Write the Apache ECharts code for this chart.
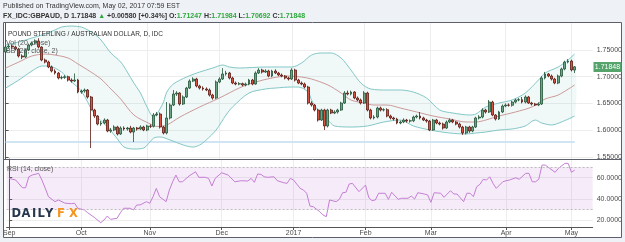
<!DOCTYPE html>
<html><head><meta charset="utf-8">
<script src="https://cdn.jsdelivr.net/npm/echarts@6/dist/echarts.min.js"></script>
<style>html,body{margin:0;padding:0;background:#fff}#c{width:625px;height:242px}</style>
</head><body><div id="c"></div>
<script>
// ---------- DATA ----------
const firstDay = '2016-09-01', lastDay = '2017-05-02';
const monthLabels = ['Sep','Oct','Nov','Dec','2017','Feb','Mar','Apr','May'];
const priceTicks = [1.55, 1.60, 1.65, 1.70, 1.75];
const rsiTicks = [20, 40, 60];
const lastPrice = 1.71848;

const opens = [1.7463,1.7556,1.7575,1.7556,1.7519,1.7388,1.7369,1.7500,1.7594,1.7631,1.7669,1.7556,1.7313,1.7275,1.7182,1.7107,1.7069,1.6976,1.6985,1.7000,
1.6938,1.6919,1.6938,1.6713,1.6732,1.6751,1.6620,1.6376,1.6264,1.6114,1.6133,1.6189,1.5983,1.6002,1.6058,1.5927,1.6039,1.6021,1.6039,1.5964,
1.6039,1.6021,1.6058,1.6002,1.6077,1.6070,1.6283,1.6301,1.6058,1.5946,1.6227,1.6470,1.6676,1.6695,1.6489,1.6620,1.6788,1.6919,1.6957,1.6826,
1.6788,1.6770,1.6751,1.6657,1.6601,1.6901,1.6957,1.7051,1.7069,1.6976,1.6882,1.6863,1.6870,1.6845,1.6863,1.6938,1.6863,1.7069,1.7125,1.7088,
1.7107,1.7013,1.7107,1.7069,1.7032,1.7013,1.6976,1.6957,1.7125,1.6938,1.6882,1.6863,1.6807,1.6507,1.6470,1.6376,1.6189,1.6376,1.6077,1.6376,
1.6320,1.6339,1.6376,1.6507,1.6695,1.6676,1.6713,1.6601,1.6564,1.6507,1.6695,1.6376,1.6227,1.6245,1.6414,1.6376,1.6383,1.6264,1.6227,1.6208,
1.6133,1.6152,1.6189,1.6170,1.6175,1.6245,1.6264,1.6227,1.6189,1.6170,1.6002,1.6189,1.6133,1.6114,1.6039,1.6152,1.6189,1.6152,1.6114,1.6058,
1.5946,1.6058,1.5983,1.6058,1.6227,1.6245,1.6376,1.6339,1.6526,1.6283,1.6208,1.6339,1.6451,1.6470,1.6465,1.6526,1.6564,1.6570,1.6526,1.6620,
1.6507,1.6489,1.6470,1.6489,1.6976,1.7051,1.7013,1.6957,1.6882,1.7013,1.7144,1.7275,1.7294,1.71247];
const closes = [1.7556,1.7575,1.7556,1.7519,1.7388,1.7369,1.7500,1.7594,1.7631,1.7669,1.7556,1.7313,1.7275,1.7182,1.7107,1.7069,1.6976,1.6985,1.7000,1.6938,
1.6919,1.6938,1.6713,1.6732,1.6751,1.6620,1.6376,1.6264,1.6114,1.6133,1.6189,1.5983,1.6002,1.6058,1.5927,1.6039,1.6021,1.6039,1.5964,1.6039,
1.6021,1.6058,1.6002,1.6077,1.6070,1.6283,1.6301,1.6058,1.5946,1.6227,1.6470,1.6676,1.6695,1.6489,1.6620,1.6788,1.6919,1.6957,1.6826,1.6788,
1.6770,1.6751,1.6657,1.6601,1.6901,1.6957,1.7051,1.7069,1.6976,1.6882,1.6863,1.6870,1.6845,1.6863,1.6938,1.6863,1.7069,1.7125,1.7088,1.7107,
1.7013,1.7107,1.7069,1.7032,1.7013,1.6976,1.6957,1.7125,1.6938,1.6882,1.6863,1.6807,1.6507,1.6470,1.6376,1.6189,1.6376,1.6077,1.6376,1.6320,
1.6339,1.6376,1.6507,1.6695,1.6676,1.6713,1.6601,1.6564,1.6507,1.6695,1.6376,1.6227,1.6245,1.6414,1.6376,1.6383,1.6264,1.6227,1.6208,1.6133,
1.6152,1.6189,1.6170,1.6175,1.6245,1.6264,1.6227,1.6189,1.6170,1.6002,1.6189,1.6133,1.6114,1.6039,1.6152,1.6189,1.6152,1.6114,1.6058,1.5946,
1.6058,1.5983,1.6058,1.6227,1.6245,1.6376,1.6339,1.6526,1.6283,1.6208,1.6339,1.6451,1.6470,1.6465,1.6526,1.6564,1.6570,1.6526,1.6620,1.6507,
1.6489,1.6470,1.6489,1.6976,1.7051,1.7013,1.6957,1.6882,1.7013,1.7144,1.7275,1.7294,1.71268,1.71848];
const highs = [1.7590,1.7610,1.7600,1.7580,1.7540,1.7420,1.7520,1.7620,1.7660,1.7700,1.7720,1.7570,1.7340,1.7300,1.7210,1.7140,1.7090,1.7020,1.7030,1.7020,
1.6970,1.7060,1.6960,1.6760,1.6780,1.6770,1.6640,1.6400,1.6280,1.6170,1.6220,1.6210,1.6040,1.6090,1.6080,1.6070,1.6070,1.6060,1.6080,1.6060,
1.6060,1.6090,1.6080,1.6100,1.6110,1.6320,1.6340,1.6330,1.6080,1.6526,1.6500,1.6750,1.6730,1.6710,1.6650,1.6810,1.6950,1.6990,1.6980,1.6850,
1.6820,1.6800,1.6780,1.6680,1.6930,1.6990,1.7160,1.7110,1.7090,1.7000,1.6910,1.6900,1.6890,1.6890,1.6960,1.6960,1.7100,1.7160,1.7150,1.7140,
1.7130,1.7130,1.7140,1.7090,1.7060,1.7030,1.7000,1.7160,1.7150,1.6960,1.6910,1.6890,1.6830,1.6540,1.6490,1.6400,1.6400,1.6400,1.6400,1.6400,
1.6370,1.6400,1.6530,1.6730,1.6740,1.6740,1.6730,1.6630,1.6590,1.6730,1.6720,1.6400,1.6280,1.6440,1.6440,1.6410,1.6410,1.6290,1.6250,1.6230,
1.6180,1.6220,1.6210,1.6200,1.6270,1.6290,1.6339,1.6250,1.6210,1.6190,1.6210,1.6210,1.6160,1.6140,1.6180,1.6220,1.6210,1.6170,1.6140,1.6080,
1.6080,1.6080,1.6080,1.6250,1.6280,1.6410,1.6400,1.6564,1.6550,1.6300,1.6360,1.6480,1.6500,1.6500,1.6550,1.6590,1.6600,1.6620,1.6650,1.6640,
1.6530,1.6510,1.6520,1.7010,1.7090,1.7070,1.7040,1.6980,1.7040,1.7170,1.7300,1.7330,1.7320,1.71984];
const lows = [1.7440,1.7530,1.7520,1.7490,1.7360,1.7330,1.7350,1.7480,1.7570,1.7610,1.7530,1.7290,1.7250,1.7160,1.7080,1.7040,1.6950,1.6950,1.6960,1.6910,
1.6890,1.6900,1.6690,1.6680,1.6700,1.6590,1.5665,1.6230,1.6090,1.6080,1.6110,1.5960,1.5950,1.5980,1.5900,1.5910,1.5990,1.5990,1.5940,1.5777,
1.5990,1.6000,1.5980,1.5980,1.6040,1.6050,1.6260,1.6030,1.5920,1.5920,1.6200,1.6450,1.6640,1.6460,1.6470,1.6600,1.6770,1.6900,1.6800,1.6760,
1.6740,1.6730,1.6630,1.6570,1.6580,1.6880,1.6940,1.7020,1.6950,1.6860,1.6840,1.6840,1.6820,1.6820,1.6840,1.6840,1.6850,1.7050,1.7060,1.7070,
1.6990,1.6990,1.7050,1.7010,1.6990,1.6950,1.6930,1.6940,1.6910,1.6860,1.6840,1.6780,1.6480,1.6440,1.6350,1.6160,1.6170,1.6002,1.6050,1.6300,
1.6300,1.6310,1.6360,1.6490,1.6650,1.6650,1.6580,1.6540,1.6480,1.6490,1.6350,1.6200,1.6200,1.6220,1.6350,1.6350,1.6240,1.6200,1.6180,1.6110,
1.6110,1.6130,1.6140,1.6140,1.6150,1.6220,1.6200,1.6170,1.6140,1.5980,1.5990,1.6110,1.6090,1.6010,1.6020,1.6130,1.6130,1.6090,1.6030,1.5910,
1.5920,1.5950,1.5960,1.6040,1.6200,1.6220,1.6310,1.6320,1.6260,1.6180,1.6190,1.6320,1.6430,1.6440,1.6440,1.6500,1.6540,1.6500,1.6500,1.6490,
1.6460,1.6450,1.6450,1.6470,1.6950,1.6990,1.6930,1.6860,1.6860,1.6990,1.7120,1.7250,1.7100,1.70692];

// Bollinger Bands (20, close, 2): [bar index, value]
const bbUpper = [[0,1.7594],[4,1.7650],[8,1.7725],[11,1.7781],[15,1.7875],[17,1.7931],[20,1.7949],[23,1.7931],[25,1.7875],[27,1.7800],[29,1.7687],[32,1.7444],[35,1.7275],[37,1.7088],[39,1.6880],[41,1.6695],[43,1.6433],[45,1.6245],[46,1.6301],[48,1.6526],[49,1.6713],[51,1.6863],[55,1.6994],[59,1.7088],[63,1.7163],[66,1.7219],[68,1.7182],[71,1.7163],[79,1.7182],[87,1.7182],[90,1.7257],[93,1.7406],[96,1.7444],[99,1.7444],[102,1.7350],[105,1.7125],[108,1.6882],[111,1.6770],[116,1.6751],[120,1.6751],[124,1.6713],[128,1.6601],[132,1.6376],[136,1.6320],[141,1.6283],[143,1.6301],[146,1.6433],[150,1.6507],[154,1.6564],[158,1.6695],[162,1.6938],[164,1.7069],[168,1.7182],[171,1.7313],[173,1.7425]];
const bbBasis = [[0,1.7163],[4,1.7275],[8,1.7388],[12,1.7425],[15,1.7406],[19,1.7350],[22,1.7238],[25,1.7125],[29,1.6957],[32,1.6770],[35,1.6582],[39,1.6283],[44,1.6115],[46,1.6068],[49,1.6096],[53,1.6245],[59,1.6433],[65,1.6601],[71,1.6788],[75,1.6882],[81,1.6976],[86,1.7013],[90,1.6994],[93,1.6957],[98,1.6845],[102,1.6695],[105,1.6564],[109,1.6507],[112,1.6470],[116,1.6470],[120,1.6414],[125,1.6339],[130,1.6264],[135,1.6208],[140,1.6152],[143,1.6152],[146,1.6189],[150,1.6264],[155,1.6339],[160,1.6433],[164,1.6582],[168,1.6657],[173,1.6845]];
const bbLower = [[0,1.6788],[4,1.6938],[8,1.7107],[11,1.7200],[13,1.7200],[17,1.7088],[19,1.6957],[23,1.6732],[27,1.6301],[31,1.6058],[34,1.5833],[36,1.5683],[39,1.5646],[42,1.5665],[45,1.5850],[47,1.5871],[50,1.5815],[54,1.5721],[57,1.5683],[59,1.5721],[61,1.5815],[64,1.6002],[67,1.6283],[69,1.6433],[74,1.6695],[79,1.6770],[82,1.6788],[87,1.6807],[89,1.6807],[92,1.6713],[93,1.6564],[95,1.6376],[98,1.6189],[100,1.6077],[105,1.6058],[110,1.6077],[115,1.6152],[120,1.6189],[124,1.6077],[129,1.6002],[135,1.5946],[140,1.5927],[143,1.5946],[146,1.5964],[150,1.6002],[154,1.6021],[158,1.6077],[161,1.6189],[163,1.6133],[166,1.6096],[169,1.6152],[173,1.6264]];

// RSI (14, close): [bar index, value]
const rsi = [[0,59.4],[2,57.8],[4,50.6],[5,50.6],[6,60.9],[7,62.5],[9,64.1],[10,57.8],[11,50.3],[12,42.2],[14,37.5],[15,39.1],[17,36.2],[19,35.6],[20,36.0],[21,31.3],[23,29.7],[24,27.1],[26,22.8],[28,17.7],[29,20.3],[30,24.0],[31,20.9],[33,21.9],[34,27.1],[35,31.3],[37,31.3],[38,29.7],[39,34.4],[40,34.4],[42,37.5],[43,36.0],[44,42.2],[45,50.0],[46,42.2],[48,37.5],[49,48.5],[50,56.2],[51,62.5],[52,56.2],[53,56.2],[55,61.6],[57,65.6],[58,60.4],[60,60.4],[61,59.4],[62,52.2],[63,59.4],[65,64.7],[67,62.5],[69,56.2],[71,57.2],[73,56.9],[74,59.4],[75,55.7],[76,63.5],[77,63.2],[78,60.9],[79,60.4],[81,60.9],[82,57.2],[84,55.3],[85,54.7],[86,59.4],[87,57.8],[89,50.0],[90,48.5],[91,45.4],[92,33.4],[93,32.8],[95,28.1],[96,25.0],[97,23.4],[98,39.1],[100,37.5],[101,39.7],[102,45.9],[103,46.3],[104,54.1],[105,54.7],[107,46.9],[109,53.1],[110,41.2],[111,38.4],[112,39.1],[113,45.4],[115,45.4],[116,39.7],[117,46.3],[119,39.7],[120,40.7],[122,40.7],[123,42.8],[124,40.0],[125,45.9],[127,44.7],[128,43.8],[129,36.9],[130,45.9],[132,45.4],[133,41.6],[135,47.8],[136,44.7],[137,44.7],[139,37.5],[140,45.4],[141,45.4],[142,42.2],[143,51.5],[144,53.8],[145,58.5],[146,57.8],[147,60.9],[148,54.7],[149,50.0],[151,56.2],[152,57.2],[153,57.8],[155,60.0],[156,58.5],[158,64.1],[159,64.1],[160,56.2],[161,56.2],[162,58.5],[163,71.9],[164,71.9],[167,65.1],[168,68.8],[170,73.5],[171,73.5],[172,65.1],[173,67.2]];
const rsiBand = [30, 70];

// ---------- BUILD ----------
const dates = [];
for (let d = new Date(firstDay + 'T00:00:00Z'); d <= new Date(lastDay + 'T00:00:00Z'); d.setUTCDate(d.getUTCDate() + 1)) {
  const wd = d.getUTCDay();
  if (wd !== 0 && wd !== 6) dates.push(d.toISOString().slice(0, 10));
}
const monthStarts = [];
dates.forEach((d, i) => { if (i === 0 || d.slice(5, 7) !== dates[i - 1].slice(5, 7)) monthStarts.push(i); });
const monthName = {};
monthStarts.forEach((idx, k) => { monthName[idx] = monthLabels[k]; });

const candles = dates.map((d, i) => [i, opens[i], closes[i], lows[i], highs[i]]);
const volume = dates.map((d, i) => [i, 0]);

const FONT = 'Liberation Sans';
const XMIN = -0.8, XMAX = 178.5;
const chart = echarts.init(document.getElementById('c'), null, { renderer: 'canvas' });

const axisTxt = { fontFamily: FONT, fontSize: 7, color: '#4a4a4a' };
const gridLine = { show: true, lineStyle: { color: '#ededed', width: 1 } };

chart.setOption({
  animation: false,
  backgroundColor: '#ffffff',
  grid: [
    { left: 3, top: 23, width: 590, height: 136 },
    { left: 3, top: 159, width: 590, height: 68 }
  ],
  xAxis: [
    { type: 'value', gridIndex: 0, min: XMIN, max: XMAX,
      axisLine: { show: false }, axisTick: { show: false, customValues: monthStarts },
      axisLabel: { show: false, customValues: monthStarts }, splitLine: gridLine },
    { type: 'value', gridIndex: 1, min: XMIN, max: XMAX,
      axisLine: { show: true, onZero: false, lineStyle: { color: '#555', width: 1 } },
      axisTick: { show: true, length: 3, customValues: monthStarts, lineStyle: { color: '#555' } },
      axisLabel: Object.assign({ customValues: monthStarts, margin: 3, formatter: v => monthName[v] || '' }, axisTxt),
      splitLine: gridLine }
  ],
  yAxis: [
    { type: 'value', gridIndex: 0, position: 'right', min: 1.5459, max: 1.8006,
      axisLine: { show: true, lineStyle: { color: '#555' } },
      axisTick: { show: true, length: 3, customValues: priceTicks, lineStyle: { color: '#555' } },
      axisLabel: Object.assign({ customValues: priceTicks, margin: 4, formatter: v => v.toFixed(5) }, axisTxt),
      splitLine: gridLine },
    { type: 'value', gridIndex: 1, position: 'right', min: 13.7, max: 77.6,
      axisLine: { show: true, lineStyle: { color: '#555' } },
      axisTick: { show: true, length: 3, customValues: rsiTicks, lineStyle: { color: '#555' } },
      axisLabel: Object.assign({ customValues: rsiTicks, margin: 4, formatter: v => v.toFixed(4) }, axisTxt),
      splitLine: gridLine },
    { type: 'value', gridIndex: 0, show: false, min: -1, max: 7 }
  ],
  series: [
    { type: 'custom', name: 'bbfill', xAxisIndex: 0, yAxisIndex: 0, z: 1, silent: true,
      data: [[0]],
      renderItem: (params, api) => {
        const pts = bbUpper.map(p => api.coord(p)).concat(bbLower.slice().reverse().map(p => api.coord(p)));
        const cs = params.coordSys;
        return { type: 'polygon', shape: { points: pts, smooth: 0.3 },
          style: { fill: 'rgba(0,140,140,0.06)' },
          clipPath: { type: 'rect', shape: { x: cs.x, y: cs.y, width: cs.width, height: cs.height } } };
      } },
    { type: 'line', name: 'vol', xAxisIndex: 0, yAxisIndex: 2, data: volume, symbol: 'none', z: 2,
      lineStyle: { color: '#cfe5f4', width: 2 }, silent: true },
    { type: 'line', name: 'upper', xAxisIndex: 0, yAxisIndex: 0, data: bbUpper, symbol: 'none', smooth: 0.3, z: 3,
      lineStyle: { color: '#84c7c7', width: 1 }, silent: true },
    { type: 'line', name: 'lower', xAxisIndex: 0, yAxisIndex: 0, data: bbLower, symbol: 'none', smooth: 0.3, z: 3,
      lineStyle: { color: '#84c7c7', width: 1 }, silent: true },
    { type: 'line', name: 'basis', xAxisIndex: 0, yAxisIndex: 0, data: bbBasis, symbol: 'none', smooth: 0.3, z: 3,
      lineStyle: { color: '#cc9a9a', width: 1 }, silent: true },
    { type: 'candlestick', name: 'GBPAUD', xAxisIndex: 0, yAxisIndex: 0, data: candles, z: 5, barWidth: 2.4,
      itemStyle: { color: '#6ba583', color0: '#d75442', borderColor: '#225437', borderColor0: '#5b1a13', borderWidth: 0.8 } },
    { type: 'line', name: 'RSI', xAxisIndex: 1, yAxisIndex: 1, data: rsi, symbol: 'none', z: 4,
      lineStyle: { color: '#c47fd5', width: 1 }, silent: true,
      markArea: { silent: true, itemStyle: { color: 'rgba(186,104,200,0.13)' }, data: [[{ yAxis: rsiBand[0] }, { yAxis: rsiBand[1] }]] },
      markLine: { silent: true, symbol: 'none', label: { show: false },
        lineStyle: { color: '#bdbdbd', type: [2, 2], width: 1 },
        data: [{ yAxis: rsiBand[0] }, { yAxis: rsiBand[1] }] } }
  ]
});

const lastY = chart.convertToPixel({ yAxisIndex: 0 }, lastPrice);
const logoLetters = [['D', 11.5, '#27374d'], ['A', 21.5, '#27374d'], ['I', 32, '#27374d'], ['L', 37.5, '#27374d'], ['Y', 45, '#27374d'], ['F', 57, '#f7941d'], ['X', 69, '#f7941d']];
const bg = '#eef1f5';
const graphics = [
  { type: 'rect', shape: { x: 0, y: 0, width: 625, height: 22.5 }, style: { fill: bg }, z: 50 },
  { type: 'rect', shape: { x: 0, y: 0, width: 3, height: 242 }, style: { fill: bg }, z: 50 },
  { type: 'rect', shape: { x: 621.5, y: 0, width: 4, height: 242 }, style: { fill: bg }, z: 50 },
  { type: 'rect', shape: { x: 0, y: 237.5, width: 625, height: 5 }, style: { fill: bg }, z: 50 },
  { type: 'rect', shape: { x: 3.5, y: 22.5, width: 618, height: 215 }, style: { fill: 'none', stroke: '#5d606b', lineWidth: 1 }, z: 60 },
  { type: 'line', shape: { x1: 3.5, y1: 159.5, x2: 621.5, y2: 159.5 }, style: { stroke: '#5d606b', lineWidth: 1 }, z: 60 },
  { type: 'text', x: 3, y: 6, z: 61, style: { text: 'Published on TradingView.com, May 02, 2017 07:59 EST', font: '7px "' + FONT + '"', fill: '#333', verticalAlign: 'middle' } },
  { type: 'text', x: 3, y: 16, z: 61, style: {
      text: '{a|FX_IDC:GBPAUD, D 1.71848 }{g|▲}{a| +0.00580 [+0.34%] O:}{g|1.71247}{a| H:}{g|1.71984}{a| L:}{g|1.70692}{a| C:}{g|1.71848}',
      verticalAlign: 'middle',
      rich: { a: { fontFamily: FONT, fontSize: 7, fontWeight: 'bold', fill: '#333' }, g: { fontFamily: FONT, fontSize: 7, fontWeight: 'bold', fill: '#2eaa3c' } } } },
  { type: 'text', x: 8, y: 34, z: 61, style: { text: 'POUND STERLING / AUSTRALIAN DOLLAR, D, IDC', font: '6.5px "' + FONT + '"', fill: '#333', verticalAlign: 'middle' } },
  { type: 'text', x: 6, y: 43, z: 61, style: { text: 'Vol (20, close)', font: '7px "' + FONT + '"', fill: '#555', verticalAlign: 'middle' } },
  { type: 'text', x: 6, y: 51.5, z: 61, style: { text: 'BB (20, close, 2)', font: '7px "' + FONT + '"', fill: '#555', verticalAlign: 'middle' } },
  { type: 'text', x: 7, y: 169.5, z: 61, style: { text: 'RSI (14, close)', font: '7px "' + FONT + '"', fill: '#555', verticalAlign: 'middle' } },
  { type: 'rect', shape: { x: 593.5, y: Math.round(lastY) - 5, width: 28, height: 10 }, style: { fill: '#54a46c' }, z: 62 },
  { type: 'text', x: 607.5, y: Math.round(lastY), z: 63, style: { text: lastPrice.toFixed(5), font: '7px "' + FONT + '"', fill: '#fff', align: 'center', verticalAlign: 'middle' } }
];
logoLetters.forEach(([ch, x, col]) => graphics.push({ type: 'text', x: x, y: 214, z: 61,
  style: { text: ch, font: 'bold 11.5px "DejaVu Sans"', fill: col, verticalAlign: 'middle' } }));
chart.setOption({ graphic: graphics });
</script>
</body></html>
